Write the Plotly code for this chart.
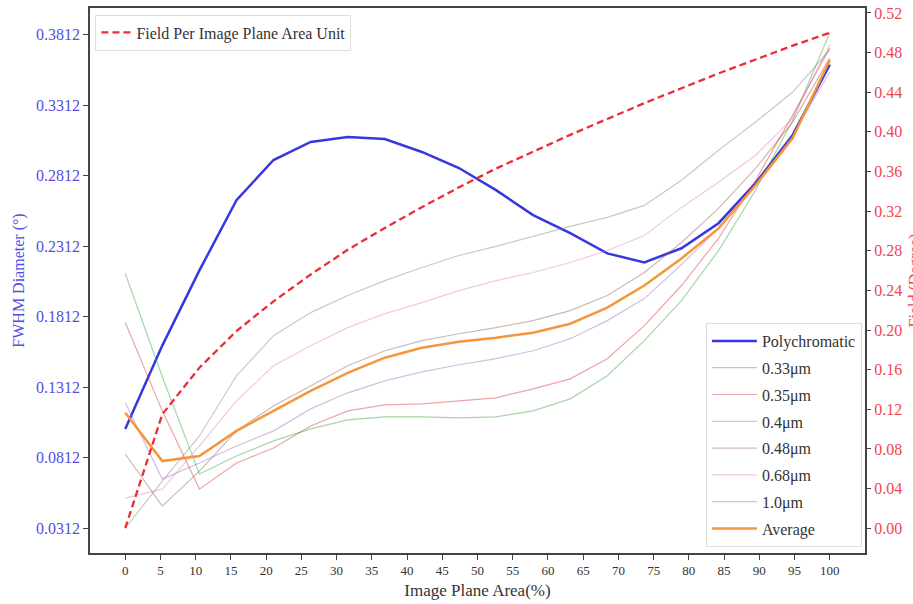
import plotly.graph_objects as go

area_pct = [0, 5.26, 10.53, 15.79, 21.05, 26.32, 31.58, 36.84, 42.11, 47.37,
            52.63, 57.89, 63.16, 68.42, 73.68, 78.95, 84.21, 89.47, 94.74, 100]

poly = [0.1016, 0.1607, 0.2140, 0.2638, 0.2923, 0.3051, 0.3086, 0.3072, 0.2980, 0.2866,
        0.2709, 0.2532, 0.2404, 0.2261, 0.2197, 0.2297, 0.2475, 0.2759, 0.3101, 0.3599]
w033 = [0.2118, 0.1386, 0.0696, 0.0824, 0.0931, 0.1016, 0.1080, 0.1101, 0.1101, 0.1094,
        0.1101, 0.1144, 0.1229, 0.1393, 0.1642, 0.1926, 0.2281, 0.2708, 0.3206, 0.3824]
w035 = [0.1770, 0.1144, 0.0589, 0.0774, 0.0881, 0.1037, 0.1144, 0.1187, 0.1194, 0.1215,
        0.1236, 0.1300, 0.1371, 0.1514, 0.1748, 0.2033, 0.2367, 0.2779, 0.3241, 0.3718]
w040 = [0.1201, 0.0660, 0.0774, 0.0895, 0.1002, 0.1158, 0.1272, 0.1357, 0.1421, 0.1471,
        0.1514, 0.1570, 0.1656, 0.1784, 0.1940, 0.2182, 0.2438, 0.2744, 0.3099, 0.3547]
w048 = [0.0838, 0.0468, 0.0717, 0.1002, 0.1179, 0.1322, 0.1464, 0.1570, 0.1642, 0.1691,
        0.1734, 0.1784, 0.1855, 0.1962, 0.2125, 0.2338, 0.2580, 0.2864, 0.3192, 0.3647]
w068 = [0.0525, 0.0589, 0.0895, 0.1215, 0.1464, 0.1606, 0.1734, 0.1834, 0.1912, 0.1997,
        0.2068, 0.2125, 0.2196, 0.2281, 0.2388, 0.2587, 0.2765, 0.2957, 0.3220, 0.3739]
w100 = [0.0312, 0.0646, 0.0966, 0.1393, 0.1677, 0.1841, 0.1962, 0.2068, 0.2161, 0.2246,
        0.2310, 0.2381, 0.2452, 0.2516, 0.2601, 0.2779, 0.2992, 0.3192, 0.3405, 0.3703]
average = [0.1130, 0.0788, 0.0824, 0.1002, 0.1144, 0.1286, 0.1414, 0.1521, 0.1592, 0.1634,
           0.1663, 0.1698, 0.1762, 0.1876, 0.2033, 0.2225, 0.2438, 0.2744, 0.3078, 0.3632]
field_per_unit = [0, 0.115, 0.162, 0.199, 0.229, 0.256, 0.281, 0.303, 0.324, 0.344,
                  0.363, 0.380, 0.397, 0.413, 0.429, 0.444, 0.459, 0.473, 0.487, 0.500]

left_ticks = [0.0312, 0.0812, 0.1312, 0.1812, 0.2312, 0.2812, 0.3312, 0.3812]
right_ticks = [0.00, 0.04, 0.08, 0.12, 0.16, 0.20, 0.24, 0.28, 0.32, 0.36, 0.40, 0.44, 0.48, 0.52]
x_ticks = list(range(0, 101, 5))

FONT = "Liberation Serif"

thin = [
    ("0.33\u03bcm", w033, "rgba(44,160,44,0.42)"),
    ("0.35\u03bcm", w035, "rgba(214,39,40,0.42)"),
    ("0.4\u03bcm", w040, "rgba(148,103,189,0.42)"),
    ("0.48\u03bcm", w048, "rgba(140,86,75,0.42)"),
    ("0.68\u03bcm", w068, "rgba(227,119,194,0.42)"),
    ("1.0\u03bcm", w100, "rgba(127,127,127,0.42)"),
]

fig = go.Figure()
fig.add_trace(go.Scatter(x=area_pct, y=poly, mode="lines", name="Polychromatic",
                         line=dict(color="rgb(55,55,225)", width=2.5),
                         legend="legend2", legendgroup="p"))
for i, (nm, vals, col) in enumerate(thin):
    fig.add_trace(go.Scatter(x=area_pct, y=vals, mode="lines", name=nm,
                             line=dict(color=col, width=1.2),
                             legend="legend2", legendgroup=f"g{i}"))
fig.add_trace(go.Scatter(x=area_pct, y=average, mode="lines", name="Average",
                         line=dict(color="rgb(245,150,60)", width=2.5),
                         legend="legend2", legendgroup="avg"))
fig.add_trace(go.Scatter(x=area_pct, y=field_per_unit, mode="lines",
                         name="Field Per Image Plane Area Unit", yaxis="y2",
                         line=dict(color="rgb(235,45,55)", width=2.3, dash="7px,4px"),
                         legend="legend"))

axcol = "#444"
fig.update_layout(
    width=913, height=604,
    margin=dict(l=90, r=48, t=8, b=51, autoexpand=False),
    paper_bgcolor="white", plot_bgcolor="white",
    font=dict(family=FONT, size=16, color="#222"),
    xaxis=dict(range=[-5, 105], tickvals=x_ticks, ticks="outside", ticklen=5,
               tickcolor=axcol, showline=True, linecolor=axcol, linewidth=1.5,
               mirror=True, showgrid=False, zeroline=False,
               tickfont=dict(family=FONT, size=13, color="#333"),
               title=dict(text="Image Plane Area(%)", font=dict(family=FONT, size=17, color="#333"),
                          standoff=7)),
    yaxis=dict(range=[0.0136, 0.4001], tickvals=left_ticks, tickformat=".4f",
               ticks="outside", ticklen=5, tickcolor=axcol, showline=True,
               linecolor=axcol, linewidth=1.5, mirror=True, showgrid=False, zeroline=False,
               tickfont=dict(family=FONT, size=16, color="rgb(80,80,230)"),
               title=dict(text="FWHM Diameter (\u00b0)", font=dict(family=FONT, size=16, color="rgb(80,80,230)"),
                          standoff=7)),
    yaxis2=dict(range=[-0.025, 0.525], tickvals=right_ticks, tickformat=".2f",
                overlaying="y", side="right", ticks="outside", ticklen=5, tickcolor=axcol,
                showline=False, showgrid=False, zeroline=False,
                tickfont=dict(family=FONT, size=16, color="rgb(240,70,80)")),
    legend=dict(x=0.007, y=0.988, xanchor="left", yanchor="top",
                bgcolor="rgba(255,255,255,0.85)", bordercolor="#ddd", borderwidth=1,
                font=dict(family=FONT, size=16, color="#333")),
    legend2=dict(x=0.996, y=0.011, xanchor="right", yanchor="bottom",
                 bgcolor="rgba(255,255,255,0.85)", bordercolor="#ddd", borderwidth=1,
                 tracegroupgap=3, traceorder="grouped", itemwidth=45,
                 font=dict(family=FONT, size=16, color="#333")),
    showlegend=True,
)
fig.add_annotation(text="Field (Degree)", xref="paper", yref="paper", x=1, y=0.5,
                   xanchor="center", yanchor="middle", xshift=49, textangle=-90,
                   showarrow=False, font=dict(family=FONT, size=16, color="rgb(240,70,80)"))

fig.write_html("out.html", config={"displayModeBar": False},
               post_script="document.body.style.margin='0';")
